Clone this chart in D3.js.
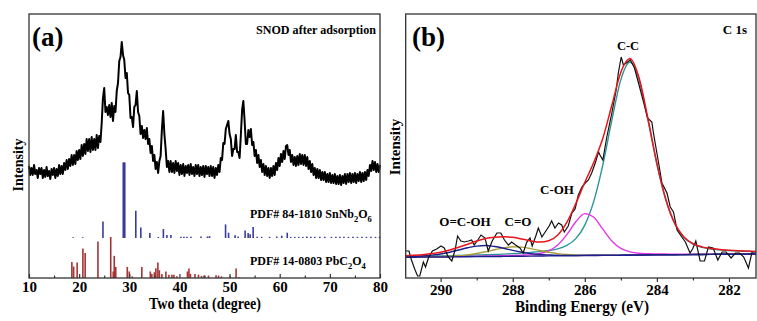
<html>
<script src="https://cdn.jsdelivr.net/npm/d3@7"></script>
<style>
  body { margin: 0; background: #fff; }
  text { font-family: "Liberation Serif", "Times New Roman", serif; font-weight: bold; fill: #000; }
</style>
<body>
<script>
// ---------- panel (a) data : XRD ----------
var thetaStart = 10, thetaStep = 0.25;   // scan grid of the measured pattern
var xrdCounts = [
  112,103,110,103,113,104,108,100,110,104,110,100,108,101,111,102,107,99,109,103,
  110,100,109,102,113,104,112,104,115,108,118,109,119,112,123,113,123,114,127,118,
  128,119,133,122,134,124,139,127,139,126,141,128,139,128,143,130,142,136,155,180,
  190,166,171,163,173,161,175,157,172,166,187,195,217,221,236,223,218,200,205,185,
  183,160,161,151,171,173,187,166,162,144,152,140,148,139,150,134,139,125,132,117,
  123,109,116,105,117,122,148,167,144,129,111,117,106,117,106,115,105,117,107,115,
  103,113,104,114,102,112,105,113,103,114,104,111,102,113,104,113,102,111,103,112,
  101,112,104,111,102,112,102,111,100,110,103,113,106,120,118,135,134,149,153,157,
  144,139,122,129,129,143,126,126,120,143,168,177,157,134,134,148,141,149,133,136,
  122,128,115,123,111,118,106,114,103,112,102,110,100,110,102,112,103,115,108,120,
  112,124,116,127,119,132,133,123,128,116,123,113,121,112,122,113,124,114,123,113,
  123,112,121,109,117,106,114,103,110,100,109,100,108,98,106,98,106,96,104,96,
  105,95,103,95,104,94,102,94,103,93,102,95,104,94,104,96,105,95,104,96,
  105,95,104,97,106,96,105,97,106,98,108,102,113,107,117,108,116,106,114,106,
  113
];
// reference patterns: [2theta, relative intensity]
var snNb2O6 = [
  [18.8,1],[20.7,1],[24.75,22],[28.8,100],[28.95,100],[29.1,100],[31.3,36],[32.3,14],[34.1,6.6],
  [35.8,1.3],[36.8,12],[37.5,4],[38.3,4],[40.3,1.5],[40.9,1.5],[41.5,1.5],[42.3,1.5],[44.3,2],
  [45.6,2],[46.0,2.5],[49.2,18],[49.8,7],[51.1,3.5],[51.7,2],[53.1,10],[53.7,6.6],[54.1,5],
  [54.7,14.5],[55.5,1.5],[56.4,1.5],[58.0,1.5],[59.4,2],[60.4,3],[61.5,7],[62.2,1.5],[63.0,1.5],
  [63.8,1.5],[64.6,1.5],[65.4,2],[66.2,1.5],[67.0,1.5],[68.0,1.5],[69.0,1.5],[70.3,1.5],
  [71.2,1.5],[72.0,1.5],[72.8,1.5],[73.7,1.5],[74.6,1.5],[75.5,1.5],[76.4,1.5],[77.3,1.5],
  [78.2,1.5],[79.1,1.5],[79.9,1.5]
];
var pbC2O4 = [
  [18.55,39],[18.9,28],[19.6,38],[20.75,72],[21.2,61],[23.75,89],[26.3,100],[26.8,16],[27.0,54],
  [27.3,27],[29.6,27],[30.0,16],[30.6,4],[32.5,27],[34.2,16],[34.5,10],[35.0,14],[35.3,24],
  [35.7,38],[36.0,19],[36.5,10],[37.3,16],[37.9,8],[38.5,8],[38.9,8],[39.5,4],[41.6,16],
  [41.9,23],[42.2,10],[43.1,10],[43.8,8],[44.4,5],[44.9,6],[45.8,6],[47.3,7],[47.8,6],
  [48.4,4],[50.1,4],[51.3,23],[51.9,2]
];
var ticksA = [10,20,30,40,50,60,70,80];
var minorA = [15,25,35,45,55,65,75];

// ---------- panel (b) data : XPS C 1s ----------
var xpsRaw = [
  [290.99,27],[290.88,27],[290.81,18],[290.71,8],[290.64,2],[290.58,2],[290.48,16],[290.42,11],
  [290.34,20],[290.23,27],[290.11,29],[289.99,32],[289.90,30],[289.79,21],[289.69,17],[289.60,28],
  [289.53,42],[289.44,37],[289.34,36],[289.23,37],[289.14,38],[289.07,33],[288.97,38],[288.88,43],
  [288.77,40],[288.68,27],[288.57,37],[288.44,45],[288.33,45],[288.23,38],[288.12,33],[288.03,36],
  [287.92,33],[287.80,30],[287.71,25],[287.61,36],[287.52,40],[287.46,32],[287.36,42],[287.29,50],
  [287.19,41],[287.10,46],[286.99,52],[286.92,57],[286.83,50],[286.73,55],[286.64,53],[286.57,46],
  [286.46,52],[286.36,65],[286.27,69],[286.18,83],[286.08,91],[285.99,95],[285.90,98],[285.81,105],
  [285.71,115],[285.62,126],[285.58,123],[285.50,118],[285.39,141],[285.25,165],[285.13,188],
  [285.07,205],[284.99,221],[284.93,213],[284.85,215],[284.74,218],[284.63,211],[284.51,195],
  [284.37,176],[284.26,160],[284.14,156],[284.10,146],[284.00,125],[283.91,106],[283.86,95],
  [283.72,85],[283.63,71],[283.54,66],[283.44,48],[283.31,41],[283.21,36],[283.08,25],[283.01,29],
  [282.92,37],[282.80,17],[282.68,17],[282.57,31],[282.44,30],[282.31,18],[282.19,26],[282.08,26],
  [281.94,20],[281.82,25],[281.71,25],[281.59,21],[281.46,10],[281.36,26],[281.22,26]
];
// fitted curves sampled on a 0.25 eV grid starting at 291 eV
var fitStart = 291, fitStep = 0.25;
var background = [20.7,20.8,20.9,21.0,21.0,21.1,21.2,21.3,21.4,21.5,21.5,21.6,21.7,21.8,21.9,22.0,22.1,22.1,22.2,22.3,
                  22.4,22.5,22.6,22.6,22.7,22.8,22.9,23.0,23.1,23.2,23.2,23.3,23.4,23.5,23.6,23.7,23.7,23.8,23.9,24.0];
var peakCC   = [.75,.81,.88,.96,1.05,1.2,1.3,1.4,1.6,1.8,2.0,2.3,2.7,3.1,3.7,4.4,5.4,7.1,10.4,17.1,
                30.5,54.4,90.5,135.2,175.7,193,175.7,135.2,90.5,54.4,30.5,17.1,10.4,7.1,5.4,4.4,3.7,3.1,2.7,2.3];
var peakCOH  = [.15,.17,.19,.21,.23,.27,.3,.35,.4,.47,.57,.7,.85,1.1,1.5,2.5,5.1,10.9,21.2,33.9,
                42.0,38.2,26.2,14.5,6.9,3.3,1.8,1.3,.9,.75,.6,.5,.43,.37,.32,.28,.25,.22,.2,.18];
var peakCO   = [.18,.21,.26,.33,.45,.67,1.1,1.85,3.1,4.75,6.7,8.5,9.5,9.05,7.5,5.5,3.7,2.3,1.35,.81,
                .52,.37,.28,.23,.2,.17,.15,.13,.11,.1,.09,.08,.07,.07,.06,.06,.05,.05,.04,.04];
var peakOCOH = [.5,.73,1.1,1.9,3.0,4.7,6.8,8.9,10.5,11.0,10.0,8.1,5.9,4.0,2.5,1.5,.95,.62,.44,.35,
                .28,.24,.21,.18,.16,.14,.12,.11,.1,.09,.08,.08,.07,.06,.06,.05,.05,.05,.04,.04];
var ticksB = [290,288,286,284,282];
var minorB = [289,287,285,283];

var svg = d3.select("body").append("svg").attr("width",757).attr("height",321);

// ================= panel (a) =================
var xA = d3.scaleLinear().domain([10,80]).range([29,380]);
var yA = d3.scaleLinear().domain([0,264]).range([278,14]);
var ySn = d3.scaleLinear().domain([0,100]).range([238,162.5]);
var yPb = d3.scaleLinear().domain([0,100]).range([278,237]);

svg.append("path").datum(xrdCounts)
  .attr("d", d3.line().x(function(d,i){ return xA(thetaStart + i*thetaStep); }).y(function(d){ return yA(d); }))
  .attr("fill","none").attr("stroke","#000").attr("stroke-width",2).attr("stroke-linejoin","round");

svg.append("g").selectAll("line").data(snNb2O6).enter().append("line")
  .attr("x1",function(d){ return xA(d[0]); }).attr("x2",function(d){ return xA(d[0]); })
  .attr("y1",ySn(0)).attr("y2",function(d){ return ySn(d[1]); })
  .attr("stroke","#3b3b9e").attr("stroke-width",1.6);

svg.append("g").selectAll("line").data(pbC2O4).enter().append("line")
  .attr("x1",function(d){ return xA(d[0]); }).attr("x2",function(d){ return xA(d[0]); })
  .attr("y1",yPb(0)).attr("y2",function(d){ return yPb(d[1]); })
  .attr("stroke","#a33434").attr("stroke-width",1.6);

svg.append("g").attr("transform","translate(0,278)")
  .call(d3.axisBottom(xA).tickValues(ticksA).tickSize(-4).tickSizeOuter(0).tickPadding(3));
svg.append("g").attr("transform","translate(0,278)")
  .call(d3.axisBottom(xA).tickValues(minorA).tickSize(-2.5).tickSizeOuter(0).tickFormat(""));

svg.append("rect").attr("x",29).attr("y",14).attr("width",351).attr("height",264)
  .attr("fill","none").attr("stroke","#333").attr("stroke-width",1.3);

svg.append("text").attr("x",32).attr("y",46).attr("font-size",27).text("(a)");
svg.append("text").attr("x",376).attr("y",34).attr("font-size",12.5).attr("text-anchor","end")
  .attr("textLength",120).attr("lengthAdjust","spacingAndGlyphs").text("SNOD after adsorption");

var l1 = svg.append("text").attr("x",250).attr("y",218).attr("font-size",12);
l1.append("tspan").text("PDF# 84-1810 SnNb");
l1.append("tspan").attr("dy",4).attr("font-size",8.5).text("2");
l1.append("tspan").attr("dy",-4).text("O");
l1.append("tspan").attr("dy",4).attr("font-size",8.5).text("6");
var l2 = svg.append("text").attr("x",250).attr("y",265).attr("font-size",12);
l2.append("tspan").text("PDF# 14-0803 PbC");
l2.append("tspan").attr("dy",4).attr("font-size",8.5).text("2");
l2.append("tspan").attr("dy",-4).text("O");
l2.append("tspan").attr("dy",4).attr("font-size",8.5).text("4");

svg.append("text").attr("x",205).attr("y",309).attr("font-size",17).attr("text-anchor","middle")
  .attr("textLength",112).attr("lengthAdjust","spacingAndGlyphs").text("Two theta (degree)");
svg.append("text").attr("transform","translate(23,165) rotate(-90)").attr("font-size",14)
  .attr("text-anchor","middle").text("Intensity");

// ================= panel (b) =================
var xB = d3.scaleLinear().domain([290.97,281.25]).range([405.7,756]);
var yB = d3.scaleLinear().domain([0,264]).range([278,14]);

svg.append("clipPath").attr("id","clipB").append("rect")
  .attr("x",405.7).attr("y",14).attr("width",350.3).attr("height",264);
var gB = svg.append("g").attr("clip-path","url(#clipB)");

var fitLine = d3.line()
  .x(function(d,i){ return xB(fitStart - i*fitStep); })
  .y(function(d){ return yB(d); })
  .curve(d3.curveMonotoneX);
function onBg(peak){ return peak.map(function(v,i){ return v + background[i]; }); }
var envelope = background.map(function(b,i){ return b + peakCC[i] + peakCOH[i] + peakCO[i] + peakOCOH[i]; });

var fits = [
  {vals: onBg(peakCC),   color: "#2a9696"},
  {vals: onBg(peakCOH),  color: "#e636e6"},
  {vals: onBg(peakCO),   color: "#a8a03c"},
  {vals: onBg(peakOCOH), color: "#1e1e8c"},
  {vals: background,     color: "#1e1e8c"}
];
gB.selectAll("path.fit").data(fits).enter().append("path").attr("class","fit")
  .attr("d",function(d){ return fitLine(d.vals); })
  .attr("fill","none").attr("stroke",function(d){ return d.color; }).attr("stroke-width",1.4);

gB.append("path").datum(xpsRaw)
  .attr("d", d3.line().x(function(d){ return xB(d[0]); }).y(function(d){ return yB(d[1]); }))
  .attr("fill","none").attr("stroke","#111").attr("stroke-width",1.2);

gB.append("path").datum(envelope).attr("d",fitLine)
  .attr("fill","none").attr("stroke","#e8141c").attr("stroke-width",1.5);

svg.append("g").attr("transform","translate(0,278)")
  .call(d3.axisBottom(xB).tickValues(ticksB).tickSize(4).tickSizeOuter(0).tickPadding(2));
svg.append("g").attr("transform","translate(0,278)")
  .call(d3.axisBottom(xB).tickValues(minorB).tickSize(2.5).tickSizeOuter(0).tickFormat(""));

svg.append("rect").attr("x",405.7).attr("y",14).attr("width",350.3).attr("height",264)
  .attr("fill","none").attr("stroke","#333").attr("stroke-width",1.3);

svg.append("text").attr("x",412).attr("y",46).attr("font-size",27).text("(b)");
svg.append("text").attr("x",747).attr("y",34).attr("font-size",13).attr("text-anchor","end").text("C 1s");
svg.append("text").attr("x",628).attr("y",50).attr("font-size",12.5).attr("text-anchor","middle").text("C-C");
svg.append("text").attr("x",557).attr("y",194).attr("font-size",13).attr("text-anchor","middle").text("C-OH");
svg.append("text").attr("x",465).attr("y",226).attr("font-size",13).attr("text-anchor","middle").text("O=C-OH");
svg.append("text").attr("x",518).attr("y",226).attr("font-size",13).attr("text-anchor","middle").text("C=O");

svg.append("text").attr("x",582).attr("y",312).attr("font-size",17).attr("text-anchor","middle")
  .attr("textLength",134).attr("lengthAdjust","spacingAndGlyphs").text("Binding Energy (eV)");
svg.append("text").attr("transform","translate(400,147) rotate(-90)").attr("font-size",15)
  .attr("text-anchor","middle").text("Intensity");

// axis styling
svg.selectAll(".domain").remove();
svg.selectAll(".tick line").attr("stroke","#333").attr("stroke-width",1.2);
svg.selectAll(".tick text").attr("font-size",15).attr("font-family","'Liberation Serif', serif")
  .attr("font-weight","bold").attr("fill","#000");
</script>
</body>
</html>
